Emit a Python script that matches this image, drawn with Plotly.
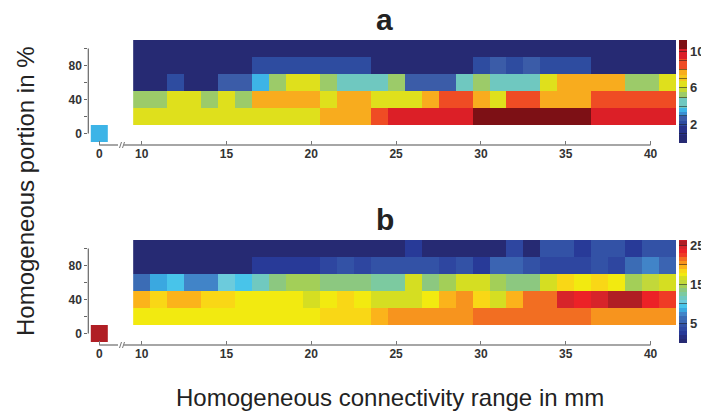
import plotly.graph_objects as go

# ---------------- data ----------------
range_mm = [10, 11, 12, 13, 14, 15, 16, 17, 18, 19, 20, 21, 22, 23, 24, 25,
            26, 27, 28, 29, 30, 31, 32, 33, 34, 35, 36, 37, 38, 39, 40, 41]
portion_pct = [20, 40, 60, 80, 100]
zero_mm = 0
zero_pct = 0

# panel a (rows: 20, 40, 60, 80, 100 %)
a_row20 = [6.4, 6.4, 6.4, 6.4, 6.4, 6.4, 6.4, 6.4, 6.4, 6.4, 6.4, 7.8, 7.8, 7.8, 8.6, 9.6,
           9.6, 9.6, 9.6, 9.6, 10.7, 10.7, 10.7, 10.7, 10.7, 10.7, 10.7, 9.6, 9.6, 9.6, 9.6, 9.6]
a_row40 = [5.2, 5.2, 6.4, 6.4, 5.2, 6.4, 5.2, 7.8, 7.8, 7.8, 7.8, 6.4, 7.8, 7.8, 6.4, 6.4,
           6.4, 7.8, 8.6, 8.6, 7.8, 6.4, 8.6, 8.6, 7.8, 7.8, 7.8, 8.6, 8.6, 8.6, 8.6, 8.6]
a_row60 = [0.5, 0.5, 2.1, 0.5, 0.5, 2.7, 2.7, 3.6, 5.2, 6.4, 6.4, 5.2, 4.4, 4.4, 4.4, 5.2,
           2.7, 2.7, 2.7, 4.4, 5.2, 4.4, 4.4, 4.4, 6.4, 7.8, 7.8, 7.8, 7.8, 5.2, 5.2, 6.4]
a_row80 = [0.5, 0.5, 0.5, 0.5, 0.5, 0.5, 0.5, 2.1, 2.1, 2.1, 2.1, 2.1, 2.1, 2.1, 0.5, 0.5,
           0.5, 0.5, 0.5, 0.5, 2.1, 2.7, 2.1, 2.7, 2.1, 2.1, 2.1, 0.5, 0.5, 0.5, 0.5, 0.5]
a_row100 = [0.5, 0.5, 0.5, 0.5, 0.5, 0.5, 0.5, 0.5, 0.5, 0.5, 0.5, 0.5, 0.5, 0.5, 0.5, 0.5,
            0.5, 0.5, 0.5, 0.5, 0.5, 0.5, 0.5, 0.5, 0.5, 0.5, 0.5, 0.5, 0.5, 0.5, 0.5, 0.5]
a_zero = 3.6

# panel b
b_row20 = [17.5, 17.5, 17.5, 17.5, 17.5, 17.5, 17.5, 17.5, 17.5, 17.5, 17.5, 18.5, 18.5, 18.5, 19.5, 20.5,
           20.5, 20.5, 20.5, 20.5, 21.5, 21.5, 21.5, 21.5, 21.5, 21.5, 21.5, 20.5, 20.5, 20.5, 20.5, 20.5]
b_row40 = [19.5, 18.5, 19.5, 19.5, 18.5, 18.5, 17.5, 17.5, 17.5, 17.5, 16.5, 17.5, 18.5, 17.5, 16.5, 16.5,
           16.5, 17.5, 19.5, 20.5, 18.5, 16.5, 19.5, 21.5, 21.5, 24.5, 23.5, 24.5, 25.5, 25.5, 23.5, 22.5]
b_row60 = [6.5, 8.5, 9.5, 7.5, 7.5, 10.5, 9.5, 11.5, 13.5, 14.5, 14.5, 13.5, 13.5, 13.5, 12.5, 12.5,
           16.5, 13.5, 14.5, 16.5, 16.5, 14.5, 13.5, 13.5, 16.5, 18.5, 17.5, 18.5, 17.5, 14.5, 15.5, 16.5]
b_row80 = [0.5, 0.5, 0.5, 0.5, 0.5, 0.5, 0.5, 2.5, 2.5, 2.5, 2.5, 3.5, 4.5, 3.5, 4.5, 4.7,
           4.7, 4.7, 3.8, 4.5, 2.5, 5.5, 5.5, 4.6, 3.8, 3.8, 3.8, 4.5, 3.8, 6.5, 7.5, 5.8]
b_row100 = [0.5, 0.5, 0.5, 0.5, 0.5, 0.5, 0.5, 0.5, 0.5, 0.5, 0.5, 0.5, 0.5, 0.5, 0.5, 0.5,
            2.5, 0.5, 0.5, 0.5, 0.5, 0.5, 3.5, 0.5, 4.5, 4.5, 2.5, 4.5, 4.5, 2.5, 4.8, 4.5]
b_zero = 25.5

x_ticks = [10, 15, 20, 25, 30, 35, 40]
y_ticks = [0, 20, 40, 60, 80, 100]
y_ticktext = ["0", "", "40", "", "80", ""]

# ---------------- styling ----------------
W, H = 709, 418          # browser window
OFF = 8                  # page body margin
FW, FH = W - OFF, H - OFF
FONT = "Arial, Liberation Sans, Helvetica, sans-serif"


def fx(p):
    return (p - OFF) / FW


def fy(p):
    return 1 - (p - OFF) / FH


def stepped(edges, colors):
    lo, hi = edges[0], edges[-1]
    cs = []
    for i, c in enumerate(colors):
        f0 = (edges[i] - lo) / (hi - lo)
        f1 = (edges[i + 1] - lo) / (hi - lo)
        cs.append([f0, c])
        cs.append([f1, c])
    return cs


a_edges = [0, 0.9, 1.8, 2.4, 2.9, 3.4, 3.8, 4.9, 5.6, 6.1, 6.7, 7.4, 8.1, 9.1, 10.2, 11.2]
a_colors = ["#262a73", "#283288", "#2e4ca0", "#3b5ca8", "#3a8fd2", "#3db4e7", "#6fc8c0",
            "#9ccb69", "#c4d833", "#dfe01c", "#f5c51c", "#f8ac1e", "#ef4c24", "#dc1f27", "#7d1015"]
b_edges = list(range(0, 27)) + [26.3]
b_colors = ["#262a73", "#272f80", "#283a98", "#2e46a0", "#3352a6", "#3b64b2", "#3b6cb5",
            "#4184c8", "#3aa8e0", "#48c4ea", "#6ccbdc", "#70c9c0", "#7ccaa0", "#8cc880",
            "#a3cf58", "#c2d83a", "#d5de22", "#f2ea10", "#f9d716", "#fbb31b", "#f7941e",
            "#f26e22", "#ef3b26", "#ec2227", "#d7242a", "#b01e24", "#c81e28"]

panels = [
    dict(rows=[a_row20, a_row40, a_row60, a_row80, a_row100], zero=a_zero, dy=0,
         edges=a_edges, colors=a_colors, cbvals=[1, 2, 3, 4, 5, 6, 7, 8, 9, 10],
         cbtext=["", "2", "", "", "", "6", "", "", "", "10"], title="a"),
    dict(rows=[b_row20, b_row40, b_row60, b_row80, b_row100], zero=b_zero, dy=200,
         edges=b_edges, colors=b_colors, cbvals=[5, 10, 15, 20, 25],
         cbtext=["5", "", "15", "", "25"], title="b"),
]

fig = go.Figure()
layout = dict(width=FW, height=FH, margin=dict(l=0, r=0, t=0, b=0, autoexpand=False),
              paper_bgcolor="white", plot_bgcolor="white", showlegend=False,
              font=dict(family=FONT, color="#333"))
shapes = []
annotations = []
tickfont = dict(family=FONT, size=12, color="#333", weight="bold")

for i, p in enumerate(panels):
    dy = p["dy"]
    xz = "x" if i == 0 else "x3"
    xm = "x2" if i == 0 else "x4"
    yy = "y" if i == 0 else "y2"
    ca = "coloraxis" if i == 0 else "coloraxis2"
    kxz = "xaxis" if i == 0 else "xaxis3"
    kxm = "xaxis2" if i == 0 else "xaxis4"
    ky = "yaxis" if i == 0 else "yaxis2"

    fig.add_trace(go.Heatmap(z=[[p["zero"]]], x0=zero_mm, dx=1, y0=zero_pct, dy=20,
                             xaxis=xz, yaxis=yy, coloraxis=ca, hoverinfo="skip"))
    fig.add_trace(go.Heatmap(z=p["rows"], x=range_mm, y=portion_pct,
                             xaxis=xm, yaxis=yy, coloraxis=ca, hoverinfo="skip"))

    ydom = [fy(142 + dy), fy(40 + dy)]
    axpos = fy(145 + dy)
    layout[ky] = dict(domain=ydom, range=[-10, 110], anchor=xz, tickvals=y_ticks,
                      ticktext=y_ticktext, ticks="outside", ticklen=3, tickcolor="#666",
                      showline=False, showgrid=False, zeroline=False, tickfont=tickfont,
                      automargin=False, fixedrange=True)
    layout[kxz] = dict(domain=[fx(88.3), fx(120)], range=[-0.647, 1.218], anchor="free",
                       position=axpos, tickvals=[zero_mm], ticktext=["0"], ticks="inside",
                       ticklen=4, tickcolor="#777", showline=False, showgrid=False,
                       zeroline=False, tickfont=tickfont, automargin=False)
    layout[kxm] = dict(domain=[fx(124), fx(676)], range=[8.959, 41.5], anchor="free",
                       position=axpos, tickvals=x_ticks, ticks="inside", ticklen=4,
                       tickcolor="#777", showline=False, showgrid=False, zeroline=False,
                       tickfont=tickfont, automargin=False)
    layout[ca] = dict(cmin=p["edges"][0], cmax=p["edges"][-1],
                      colorscale=stepped(p["edges"], p["colors"]),
                      colorbar=dict(x=fx(679), xanchor="left", xpad=0, ypad=0,
                                    y=fy(91.5 + dy), yanchor="middle",
                                    len=103, lenmode="pixels", thickness=8,
                                    outlinewidth=0, tickvals=p["cbvals"], ticktext=p["cbtext"],
                                    ticks="inside", ticklen=8, tickwidth=1,
                                    tickcolor="rgba(30,30,30,0.55)",
                                    tickfont=dict(family=FONT, size=13, color="#333",
                                                  weight="bold")))

    # axis lines
    shapes.append(dict(type="line", xref="paper", yref=yy, x0=fx(88.3), x1=fx(88.3),
                       y0=0, y1=100, line=dict(color="#666", width=1.2)))
    shapes.append(dict(type="line", xref=xz, yref="paper", x0=0, x1=1.1,
                       y0=axpos, y1=axpos, line=dict(color="#888", width=1.5)))
    shapes.append(dict(type="line", xref=xm, yref="paper", x0=8.96, x1=40,
                       y0=axpos, y1=axpos, line=dict(color="#888", width=1.5)))
    for bx in (119.5, 122.5):
        shapes.append(dict(type="line", xref="paper", yref="paper",
                           x0=fx(bx), x1=fx(bx + 2), y0=fy(148 + dy), y1=fy(142 + dy),
                           line=dict(color="#777", width=1)))

    annotations.append(dict(text=p["title"], x=fx(384.6), y=fy(19 + dy), xref="paper",
                            yref="paper", showarrow=False, xanchor="center", yanchor="middle",
                            font=dict(family=FONT, size=30, color="#222", weight="bold")))

annotations.append(dict(text="Homogeneous connectivity range in mm", x=fx(390), y=fy(397),
                        xref="paper", yref="paper", showarrow=False, xanchor="center",
                        yanchor="middle", font=dict(family=FONT, size=24, color="#222")))
annotations.append(dict(text="Homogeneous portion in %", x=fx(26), y=fy(191),
                        xref="paper", yref="paper", showarrow=False, xanchor="center",
                        yanchor="middle", textangle=-90,
                        font=dict(family=FONT, size=24, color="#222")))

layout["shapes"] = shapes
layout["annotations"] = annotations
fig.update_layout(**layout)
fig.write_html("out.html")
